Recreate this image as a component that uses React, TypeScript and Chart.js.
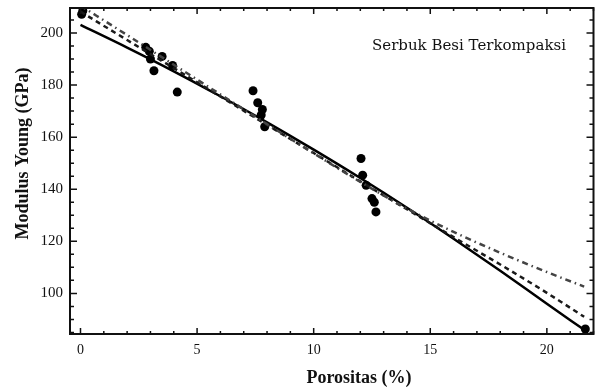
import React, { useEffect, useRef } from "react";
import { Chart, registerables } from "chart.js";

Chart.register(...registerables);

// Measured data points (Porositas %, Modulus Young GPa)
const porosityPts = [0.05, 0.1, 2.8, 2.95, 3.0, 3.15, 3.5, 3.95, 4.15, 7.4, 7.6, 7.8, 7.75, 7.9, 12.03, 12.1, 12.25, 12.5, 12.6, 12.67, 21.65];
const modulusPts = [207.2, 208.5, 194.5, 193, 190, 185.5, 191, 187.5, 177.3, 177.8, 173.2, 170.6, 168.5, 164, 151.8, 145.4, 141.5, 136.4, 135, 131.3, 86.3];

// Model curves
const curveX = [0, 2, 4, 6, 8, 10, 12, 14, 16, 18, 20, 21.6];
const solidY = [203.1, 194.4, 185.3, 175.7, 165.7, 155.2, 144.3, 132.9, 121.0, 108.7, 96.0, 86.0];
const dashedY = [208.2, 197.3, 186.5, 175.6, 164.7, 153.9, 143.0, 132.3, 121.6, 111.1, 100.2, 91.0];
const dashDotY = [210.5, 199.2, 187.8, 176.4, 165.0, 153.8, 142.8, 132.6, 123.6, 115.6, 108.2, 102.6];

const xTickLabels = [0, 5, 10, 15, 20];
const yTickLabels = [100, 120, 140, 160, 180, 200];

const chartTitle = "Serbuk Besi Terkompaksi";
const xTitle = "Porositas (%)";
const yTitle = "Modulus Young (GPa)";

const X_MIN = -0.45;
const X_MAX = 22.0;
const Y_MIN = 84.4;
const Y_MAX = 209.6;

const toXY = (xs: number[], ys: number[]) => xs.map((x, i) => ({ x, y: ys[i] }));

const framePlugin = {
  id: "framePlugin",
  afterDraw(chart: any) {
    const { ctx, chartArea } = chart;
    const xs = chart.scales.x;
    const ys = chart.scales.y;
    const { left, right, top, bottom } = chartArea;
    ctx.save();
    ctx.strokeStyle = "#111";
    ctx.lineWidth = 2;
    ctx.strokeRect(left, top, right - left, bottom - top);
    ctx.lineWidth = 1.5;
    ctx.beginPath();
    for (let v = 0; v <= 22; v += 1) {
      const px = xs.getPixelForValue(v);
      if (px < left || px > right) continue;
      const len = v % 5 === 0 ? 6 : 3;
      ctx.moveTo(px, bottom);
      ctx.lineTo(px, bottom - len);
      ctx.moveTo(px, top);
      ctx.lineTo(px, top + len);
    }
    for (let v = 85; v <= 210; v += 5) {
      const py = ys.getPixelForValue(v);
      if (py < top || py > bottom) continue;
      const len = v % 20 === 0 ? 7 : 4;
      ctx.moveTo(left, py);
      ctx.lineTo(left + len, py);
      ctx.moveTo(right, py);
      ctx.lineTo(right - len, py);
    }
    ctx.stroke();

    ctx.fillStyle = "#111";
    ctx.font = "15px 'DejaVu Serif'";
    ctx.textAlign = "left";
    ctx.textBaseline = "alphabetic";
    ctx.fillText(chartTitle, 372, 50);

    ctx.font = "bold 18px 'Liberation Serif'";
    ctx.textAlign = "center";
    ctx.textBaseline = "middle";
    ctx.fillText(xTitle, 359, 378);

    ctx.translate(23, 153.5);
    ctx.rotate(-Math.PI / 2);
    ctx.font = "bold 18px 'Liberation Serif'";
    ctx.fillText(yTitle, 0, 0);
    ctx.restore();
  },
};

export default function App() {
  const ref = useRef<HTMLCanvasElement>(null);
  useEffect(() => {
    if (!ref.current) return;
    const chart = new Chart(ref.current, {
      type: "scatter",
      data: {
        datasets: [
          {
            label: "dash-dot",
            data: toXY(curveX, dashDotY),
            showLine: true,
            borderColor: "#444",
            borderWidth: 2.5,
            borderDash: [6, 4, 1.5, 4],
            pointRadius: 0,
            cubicInterpolationMode: "monotone",
          },
          {
            label: "dashed",
            data: toXY(curveX, dashedY),
            showLine: true,
            borderColor: "#1a1a1a",
            borderWidth: 2.5,
            borderDash: [5, 4],
            pointRadius: 0,
            cubicInterpolationMode: "monotone",
          },
          {
            label: "solid",
            data: toXY(curveX, solidY),
            showLine: true,
            borderColor: "#000",
            borderWidth: 2.5,
            pointRadius: 0,
            cubicInterpolationMode: "monotone",
          },
          {
            label: "data",
            data: toXY(porosityPts, modulusPts),
            showLine: false,
            pointRadius: 4.5,
            pointBackgroundColor: "#000",
            pointBorderColor: "#000",
            borderWidth: 0,
          },
        ],
      },
      options: {
        responsive: false,
        animation: false,
        layout: { padding: { top: 8, right: 3, left: 0, bottom: 0 } },
        plugins: { legend: { display: false }, tooltip: { enabled: false }, title: { display: false } },
        scales: {
          x: {
            type: "linear",
            min: X_MIN,
            max: X_MAX,
            grid: { display: false, drawTicks: false },
            border: { display: false },
            afterFit: (s: any) => { s.height = 55; s.paddingLeft = 0; s.paddingRight = 0; },
            afterBuildTicks: (s: any) => { s.ticks = xTickLabels.map((v) => ({ value: v })); },
            ticks: { color: "#111", padding: 8, font: { family: "'Liberation Serif'", size: 14 }, maxRotation: 0 },
          },
          y: {
            type: "linear",
            min: Y_MIN,
            max: Y_MAX,
            grid: { display: false, drawTicks: false },
            border: { display: false },
            afterFit: (s: any) => { s.width = 70; s.paddingTop = 0; s.paddingBottom = 0; },
            afterBuildTicks: (s: any) => { s.ticks = yTickLabels.map((v) => ({ value: v })); },
            ticks: { color: "#111", padding: 7, font: { family: "'Liberation Serif'", size: 15 } },
          },
        },
      },
      plugins: [framePlugin],
    });
    return () => chart.destroy();
  }, []);
  return (
    <div style={{ position: "absolute", left: 0, top: 0, width: 598, height: 389, background: "#fff" }}>
      <canvas ref={ref} width={598} height={389} style={{ display: "block" }} />
    </div>
  );
}
